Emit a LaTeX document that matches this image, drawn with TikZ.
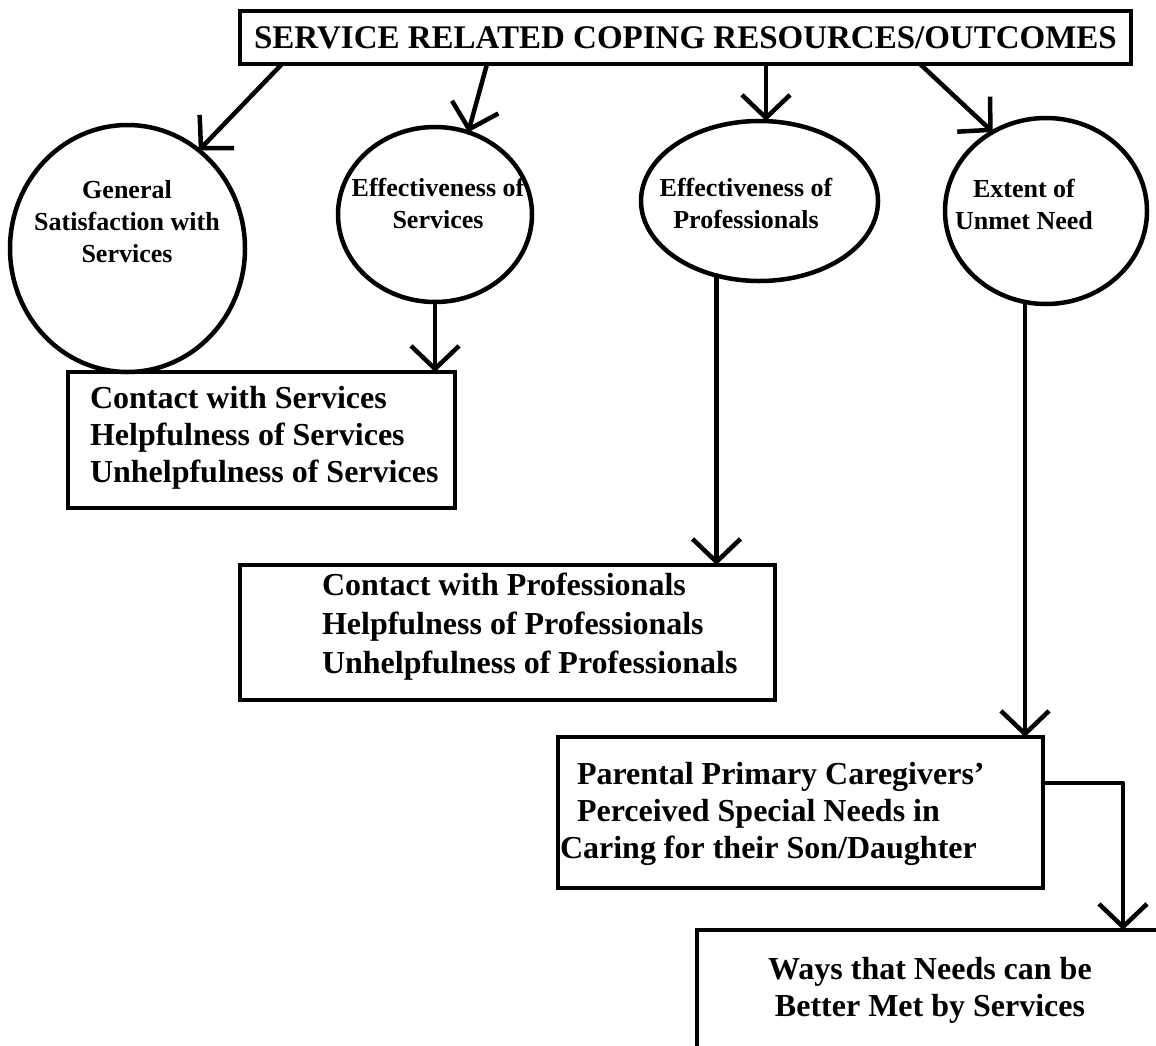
\documentclass[tikz,border=0pt]{standalone}
\usepackage{fontspec}
\setmainfont{Liberation Serif}
\usetikzlibrary{arrows.meta,shapes.geometric}
\begin{document}
\begin{tikzpicture}[x=1pt,y=-1pt,
  every node/.style={inner sep=0pt, outer sep=0pt},
  frame/.style={draw, line width=4.5pt, rectangle},
  oval/.style={draw, line width=4.5pt, ellipse},
  ovaltext/.style={font=\fontsize{26}{32}\selectfont\bfseries, align=center},
  boxtext/.style={font=\fontsize{32}{37}\selectfont\bfseries, align=left},
  arr/.style={line width=4.5pt, line cap=round, line join=round,
    -{Straight Barb[length=23pt,width=48pt]}}]
\useasboundingbox (0,0) rectangle (1156,1045);
\clip (0,0) rectangle (1156,1045);

% heading
\node[frame, minimum width=891pt, minimum height=53pt,
      font=\fontsize{33}{40}\selectfont\bfseries] (title) at (685.5,37.5)
      {SERVICE RELATED COPING RESOURCES/OUTCOMES};

% the four outcome ovals
\node[oval, minimum width=235pt, minimum height=247pt] (c1) at (127.5,248.5) {};
\node[oval, minimum width=194pt, minimum height=175pt] (c2) at (435,214.5) {};
\node[oval, minimum width=237pt, minimum height=160pt] (c3) at (759.5,201) {};
\node[oval, minimum width=202pt, minimum height=186pt] (c4) at (1046,211) {};

\node[ovaltext] (c1t) at (127,222) {General\\Satisfaction with\\Services};
\node[ovaltext] (c2t) at (438,203) {Effectiveness of\\Services};
\node[ovaltext] (c3t) at (746,203) {Effectiveness of\\Professionals};
\node[ovaltext] (c4t) at (1024,204) {Extent of\\Unmet Need};

% measure boxes
\node[frame, minimum width=387pt, minimum height=136pt] (b1) at (261.5,440) {};
\node[frame, minimum width=535pt, minimum height=135pt] (b2) at (507.5,632.5) {};
\node[frame, minimum width=485pt, minimum height=151pt] (b3) at (800.5,812.5) {};
\node[frame, minimum width=483pt, minimum height=130pt] (b4) at (938.5,995) {};

\node[boxtext, anchor=west] (b1t) at (90,438)
  {Contact with Services\\Helpfulness of Services\\Unhelpfulness of Services};
\node[boxtext, anchor=west, font=\fontsize{32}{39}\selectfont\bfseries] (b2t) at (322,627)
  {Contact with Professionals\\Helpfulness of Professionals\\Unhelpfulness of Professionals};
\node[boxtext, anchor=west] (b3t) at (577,814)
  {Parental Primary Caregivers'\\Perceived Special Needs in\\\hspace*{-17pt}Caring for their Son/Daughter};
\node[boxtext, align=center] (b4t) at (930,990)
  {Ways that Needs can be\\Better Met by Services};

% connectors
\coordinate (s1) at (282,64);
\coordinate (s2) at (487,64);
\coordinate (s3) at (766,64);
\coordinate (s4) at (920,64);
\draw[arr] (s1) -- (c1.54);
\draw[arr] (s2) -- (c2.68);
\draw[arr] (s3) -- (s3 |- c3.north);
\draw[arr] (s4) -- (c4.124);

\draw[arr] (c2.south) -- (c2.south |- b1.north);
\draw[arr] (c3.240) -- (c3.240 |- b2.north);
\draw[arr] (c4.257) -- (c4.257 |- b3.north);

\coordinate (e3) at ([yshift=29.5pt]b3.east);
\coordinate (t4) at (1123,930);
\draw[arr] (e3) -| (t4);
\end{tikzpicture}
\end{document}
